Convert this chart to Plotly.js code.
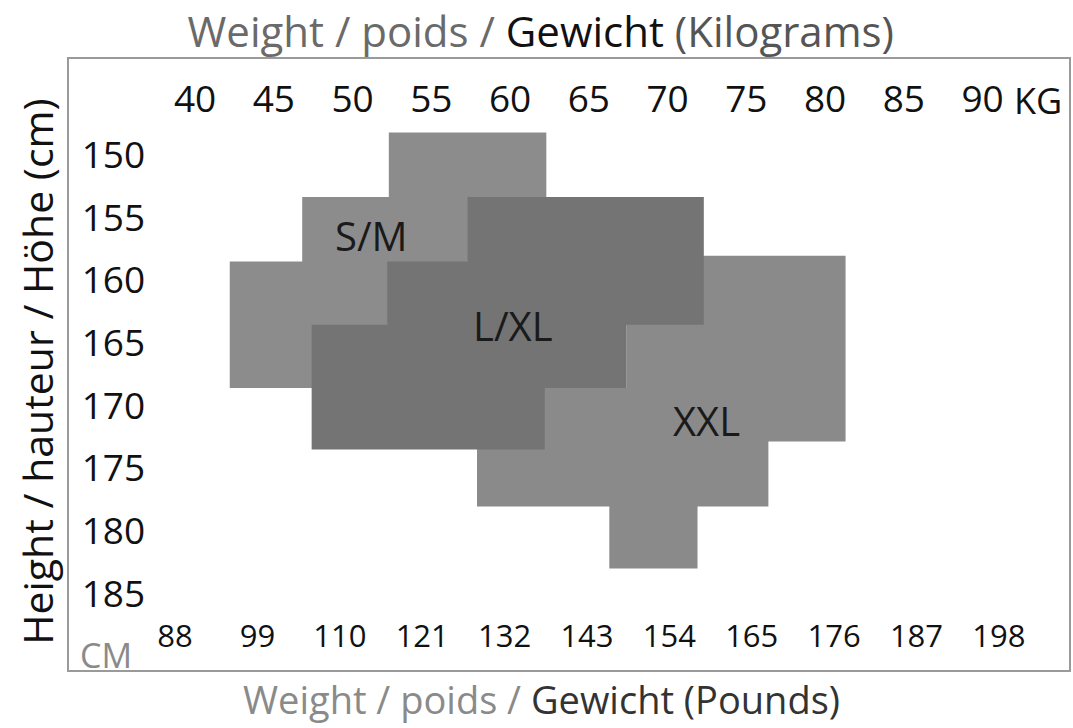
<!DOCTYPE html>
<html>
<head>
<meta charset="utf-8">
<script src="https://cdn.plot.ly/plotly-3.0.1.min.js"></script>
<style>
  html, body { margin: 0; padding: 0; background: #ffffff; }
  #chart { width: 1073px; height: 728px; }
</style>
</head>
<body>
<div id="chart"></div>
<script>
// ---------- data ----------
const kgTicks = [40, 45, 50, 55, 60, 65, 70, 75, 80, 85, 90];
const lbTicks = [88, 99, 110, 121, 132, 143, 154, 165, 176, 187, 198];
const cmTicks = [150, 155, 160, 165, 170, 175, 180, 185];

const sizeNames = ['S/M', 'L/XL', 'XXL'];

// each size: height band edges (cm) and, per band, weight range (kg)
const smEdges = [148.2, 153.35, 158.5, 163.55, 168.6];
const smMin   = [52.3, 46.8, 42.2, 42.2];
const smMax   = [62.3, 62.3, 57.3, 52.2];

const lxlEdges = [153.35, 158.5, 163.55, 168.6, 173.5];
const lxlMin   = [57.3, 52.2, 47.4, 47.4];
const lxlMax   = [72.3, 72.3, 67.4, 62.2];

const xxlEdges = [158.05, 163.55, 168.6, 172.87, 178.05, 183.0];
const xxlMin   = [67.4, 67.4, 57.9, 57.9, 66.3];
const xxlMax   = [81.3, 81.3, 81.3, 76.4, 71.9];

// label anchor points (kg, cm)
const labelKg = [51.2, 60.2, 72.5];
const labelCm = [156.4, 163.6, 171.2];

// ---------- build ----------
function staircase(edges, mins, maxs) {
  const xs = [], ys = [];
  for (let i = 0; i < mins.length; i++) {
    xs.push(maxs[i], maxs[i]); ys.push(edges[i], edges[i + 1]);
  }
  for (let i = mins.length - 1; i >= 0; i--) {
    xs.push(mins[i], mins[i]); ys.push(edges[i + 1], edges[i]);
  }
  xs.push(xs[0]); ys.push(ys[0]);
  return { xs, ys };
}

const FONT = 'Open Sans, Noto Sans, sans-serif';
const shapesData = [
  { name: sizeNames[0], poly: staircase(smEdges, smMin, smMax), color: '#8c8c8c' },
  { name: sizeNames[2], poly: staircase(xxlEdges, xxlMin, xxlMax), color: '#8a8a8a' },
  { name: sizeNames[1], poly: staircase(lxlEdges, lxlMin, lxlMax), color: '#747474' }
];

const traces = shapesData.map(s => ({
  type: 'scatter', mode: 'lines',
  x: s.poly.xs, y: s.poly.ys,
  fill: 'toself', fillcolor: s.color,
  line: { width: 0, color: s.color },
  name: s.name, hoverinfo: 'name',
  xaxis: 'x', yaxis: 'y'
}));

// invisible trace to activate pound axis
traces.push({
  type: 'scatter', mode: 'markers', x: lbTicks, y: lbTicks.map(() => cmTicks[0]),
  marker: { opacity: 0 }, xaxis: 'x2', yaxis: 'y', hoverinfo: 'skip', showlegend: false
});

const annotations = sizeNames.map((n, i) => ({
  x: labelKg[i], y: labelCm[i], xref: 'x', yref: 'y', text: n, showarrow: false,
  xanchor: 'center', yanchor: 'middle',
  font: { family: FONT, size: 40, color: '#1a1a1a' }
}));

annotations.push(
  { x: 0.968, y: 0.93, xref: 'paper', yref: 'paper', text: 'KG', showarrow: false,
    xanchor: 'center', yanchor: 'middle',
    font: { family: FONT, size: 36, color: '#111' } },
  { x: 0.038, y: 0.026, xref: 'paper', yref: 'paper', text: 'CM', showarrow: false,
    xanchor: 'center', yanchor: 'middle',
    font: { family: FONT, size: 34, color: '#8a8a8a' } },
  { x: 0.473, y: -0.046, xref: 'paper', yref: 'paper', xanchor: 'center', yanchor: 'middle',
    text: '<span style="color:#8a8a8a">Weight / poids / </span><span style="color:#333">Gewicht (Pounds)</span>',
    showarrow: false, font: { family: FONT, size: 38, color: '#333' } },
  { x: -0.031, y: 0.488, xref: 'paper', yref: 'paper', xanchor: 'center', yanchor: 'middle',
    textangle: -90,
    text: 'Height / hauteur / Höhe (cm)', showarrow: false,
    font: { family: FONT, size: 41, color: '#111' } }
);

const layout = {
  width: 1073, height: 728,
  margin: { l: 68, r: 3, t: 58, b: 57 },
  paper_bgcolor: '#ffffff', plot_bgcolor: '#ffffff',
  showlegend: false,
  title: {
    text: '<span style="color:#6a6a6a">Weight / poids / </span><span style="color:#111">Gewicht </span><span style="color:#555">(Kilograms)</span>',
    x: 0.504, xanchor: 'center', y: 0.955, yanchor: 'middle', yref: 'container',
    font: { family: FONT, size: 42, color: '#111' }
  },
  xaxis: {
    range: [31.93, 95.55], side: 'top', anchor: 'free', position: 0.9,
    tickvals: kgTicks, ticks: '', showgrid: false, zeroline: false, showline: false,
    tickfont: { family: FONT, size: 37, color: '#111' }, fixedrange: true
  },
  xaxis2: {
    range: [73.7, 207.5], overlaying: 'x', side: 'bottom', anchor: 'free', position: 0.091,
    tickvals: lbTicks, ticks: '', showgrid: false, zeroline: false, showline: false,
    tickfont: { family: FONT, size: 31, color: '#111' }, fixedrange: true
  },
  yaxis: {
    range: [191.18, 142.26], anchor: 'free', position: 0.077, side: 'left',
    tickvals: cmTicks, ticks: '', showgrid: false, zeroline: false, showline: false,
    tickfont: { family: FONT, size: 37, color: '#111' }, fixedrange: true
  },
  shapes: [
    { type: 'rect', xref: 'paper', yref: 'paper', x0: 0, x1: 1, y0: 0, y1: 1,
      line: { color: '#9a9a9a', width: 2 }, fillcolor: 'rgba(0,0,0,0)', layer: 'above' }
  ],
  annotations: annotations
};

Plotly.newPlot('chart', traces, layout, { displayModeBar: false, staticPlot: true });
</script>
</body>
</html>
